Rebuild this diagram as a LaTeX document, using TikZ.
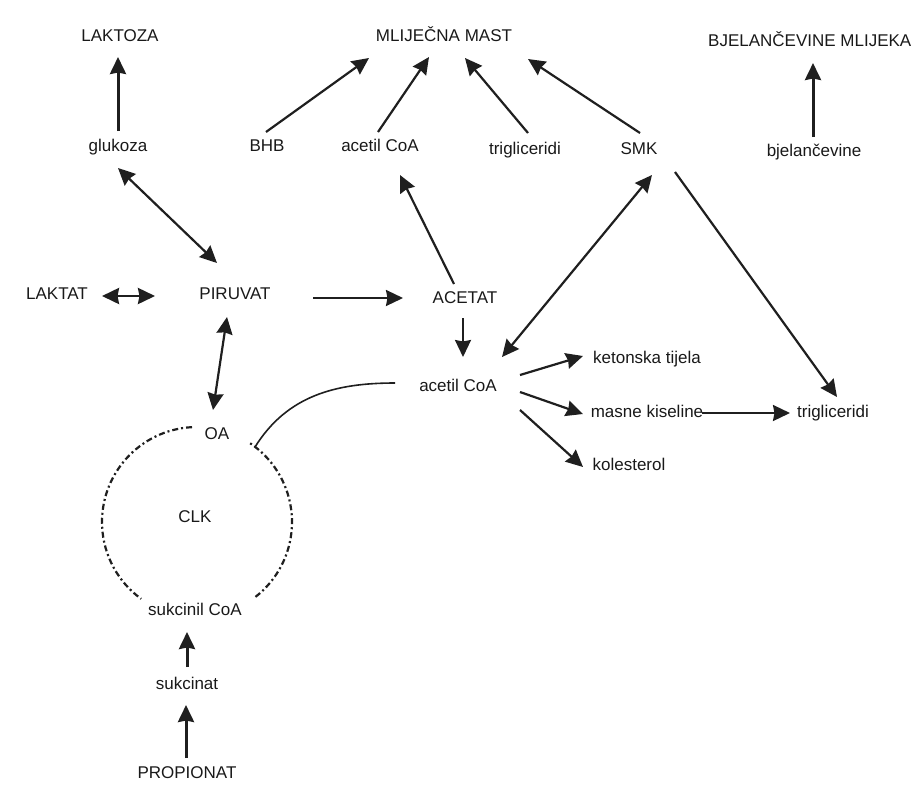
\documentclass[tikz,border=0pt]{standalone}
\usepackage{fontspec}
\setsansfont{Liberation Sans}
\usetikzlibrary{arrows.meta}

\begin{document}
\begin{tikzpicture}[x=1pt,y=-1pt,font=\sffamily\fontsize{17}{20}\selectfont,
	every node/.style={text=black!90,text height=12pt,text depth=4pt,inner sep=0pt},
	flow/.style={draw=black!88,line width=2.2pt,-{Stealth[length=17pt,width=16pt,inset=1.5pt]}},
	bothway/.style={flow,{Stealth[length=17pt,width=16pt,inset=1.5pt]}-{Stealth[length=17pt,width=16pt,inset=1.5pt]}},
	heavy/.style={flow,line width=3pt},
	cycle line/.style={draw=black!88,line width=2.2pt,dash pattern=on 6pt off 3pt on 2pt off 3pt}]
	\useasboundingbox (0,0) rectangle (912,785);
	\foreach \N/\X/\Y/\T in
	{laktoza/120/37/LAKTOZA, mast/444/37/MLIJEČNA MAST,
	 glukoza/118/147/glukoza, bhb/267/147/BHB, acoaT/380/147/acetil CoA,
	 trigT/525/150/trigliceridi, smk/639/150/SMK, bjelan/814/152/bjelančevine,
	 laktat/57/295/LAKTAT, piruvat/235/295/PIRUVAT, acetat/465/299/ACETAT,
	 acoa/458/387/acetil CoA, keton/647/359/ketonska tijela,
	 masne/647/413/masne kiseline, trigR/833/413/trigliceridi,
	 kolest/629/466/kolesterol, oa/217/435/OA, clk/195/518/CLK,
	 sukcoa/195/611/sukcinil CoA, sukcinat/187/685/sukcinat,
	 propionat/187/774/PROPIONAT}
	{\node (\N) at (\X,\Y) {\T};}
	\node[anchor=west] (bjel) at (708,42) {BJELANČEVINE MLIJEKA};
	% ciklus limunske kiseline
	\coordinate (kc) at (197,522);
	\draw[cycle line] ([shift={(93:95pt)}]kc) arc[start angle=93,end angle=234,radius=95pt];
	\draw[cycle line] ([shift={(-52:95pt)}]kc) arc[start angle=-52,end angle=57,radius=95pt];
	\draw[draw=black!88,line width=1.6pt] ([shift={(-63,-4)}]acoa.center) to[out=180,in=58] ([shift={(38,12)}]oa.center);
	% prema mlijeku
	\draw[heavy] ([shift={(0,-16)}]glukoza.center) -- ([shift={(-2,20)}]laktoza.center);
	\draw[flow] ([shift={(-1,-15)}]bhb.center) -- ([shift={(-75,21)}]mast.center);
	\draw[flow] ([shift={(-2,-15)}]acoaT.center) -- ([shift={(-15,20)}]mast.center);
	\draw[flow] ([shift={(3,-17)}]trigT.center) -- ([shift={(21,21)}]mast.center);
	\draw[flow] ([shift={(1,-17)}]smk.center) -- ([shift={(84,22)}]mast.center);
	\draw[heavy] ([shift={(-1,-15)}]bjelan.center) -- ([shift={(105,21)}]bjel.west);
	% sredina
	\draw[bothway] ([shift={(0,21)}]glukoza.center) -- ([shift={(-18,-32)}]piruvat.center);
	\draw[flow] ([shift={(-11,-15)}]acetat.center) -- ([shift={(20,28)}]acoaT.center);
	\draw[bothway] ([shift={(13,25)}]smk.center) -- ([shift={(44,-30)}]acoa.center);
	\draw[flow] ([shift={(36,22)}]smk.center) -- ([shift={(4,-16)}]trigR.center);
	\draw[bothway,line width=2.8pt] ([shift={(45,1)}]laktat.center) -- ([shift={(-80,1)}]piruvat.center);
	\draw[flow] ([shift={(78,3)}]piruvat.center) -- ([shift={(-62,-1)}]acetat.center);
	\draw[bothway] ([shift={(-8,22)}]piruvat.center) -- ([shift={(-4,-25)}]oa.center);
	\draw[flow] ([shift={(-2,19)}]acetat.center) -- ([shift={(5,-30)}]acoa.center);
	\draw[flow] ([shift={(62,-12)}]acoa.center) -- ([shift={(-64,-3)}]keton.center);
	\draw[flow] ([shift={(62,5)}]acoa.center) -- ([shift={(-64,1)}]masne.center);
	\draw[flow] ([shift={(62,23)}]acoa.center) -- ([shift={(-46,1)}]kolest.center);
	\draw[flow] ([shift={(55,0)}]masne.center) -- ([shift={(-43,0)}]trigR.center);
	% propionat
	\draw[heavy] ([shift={(0,-18)}]sukcinat.center) -- ([shift={(-8,21)}]sukcoa.center);
	\draw[heavy] ([shift={(-1,-16)}]propionat.center) -- ([shift={(-1,20)}]sukcinat.center);
\end{tikzpicture}
\end{document}
